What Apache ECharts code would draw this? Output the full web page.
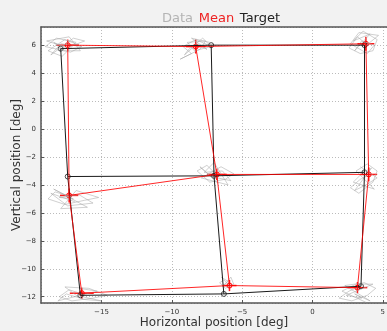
<!DOCTYPE html>
<html>
<head>
<meta charset="utf-8">
<script src="https://cdn.jsdelivr.net/npm/echarts@6/dist/echarts.min.js"></script>
<style>
  html, body { margin: 0; padding: 0; background: #f2f2f2; }
  #chart { width: 387px; height: 331px; }
</style>
</head>
<body>
<div id="chart"></div>
<script>
// order: TL, TM, TR, ML, MM, MR, BL, BM, BR
const targetX = [-17.9, -7.2, 3.7, -17.4, -7.0, 3.7, -16.5, -6.3, 3.45];
const targetY = [5.75, 6.0, 6.0, -3.4, -3.35, -3.1, -11.9, -11.8, -11.25];
const meanX = [-17.4, -8.3, 3.8, -17.3, -6.8, 4.0, -16.4, -5.9, 3.2];
const meanY = [6.0, 5.9, 6.1, -4.75, -3.25, -3.25, -11.75, -11.2, -11.35];
const sdX = [0.8, 0.7, 0.6, 0.65, 0.7, 0.6, 0.85, 0.5, 0.7];
const sdY = [0.4, 0.5, 0.5, 0.5, 0.4, 0.5, 0.4, 0.4, 0.4];
const paths = [[0, 1, 2], [3, 4, 5], [6, 7, 8], [0, 3, 6], [1, 4, 7], [2, 5, 8]];

// raw gaze traces around each target
const traces = [
  [[-16.6, 6.0], [-17.6, 6.4], [-18.8, 5.6], [-17.8, 5.2], [-16.8, 6.2], [-18.2, 6.5], [-19.0, 5.9], [-17.2, 5.5], [-16.4, 5.9], [-17.9, 6.1], [-18.6, 5.3], [-17.0, 6.5],
   [-16.2, 6.3], [-17.5, 5.8], [-18.4, 6.2], [-17.7, 5.6], [-16.5, 5.6], [-17.3, 6.6], [-18.9, 6.3], [-17.6, 5.9]],
  [[-7.4, 6.0], [-8.3, 6.4], [-9.2, 5.9], [-8.6, 5.4], [-9.4, 5.0], [-8.0, 5.7], [-7.6, 6.3], [-8.9, 6.2], [-8.4, 5.6], [-7.2, 5.9],
   [-7.8, 6.5], [-8.8, 5.7], [-9.1, 5.3], [-8.2, 6.1], [-7.5, 5.7], [-8.6, 6.5], [-7.3, 6.2]],
  [[3.8, 6.1], [3.2, 6.6], [2.6, 5.8], [3.4, 5.4], [4.3, 5.6], [4.6, 6.4], [3.6, 7.0], [2.9, 6.3], [4.1, 6.8], [3.0, 5.6],
   [3.5, 6.3], [4.4, 6.0], [3.9, 5.4], [2.7, 6.1], [3.3, 6.9], [4.7, 6.7], [3.6, 5.8]],
  [[-17.3, -4.8], [-18.3, -4.5], [-18.8, -5.0], [-17.6, -5.4], [-16.2, -5.1], [-15.2, -4.9], [-16.8, -4.4], [-17.9, -5.7], [-16.0, -5.6], [-18.4, -4.3],
   [-17.0, -5.0], [-18.0, -4.9], [-16.6, -4.7], [-15.6, -5.3], [-17.4, -5.5], [-18.6, -4.6], [-16.9, -5.2]],
  [[-6.8, -3.3], [-7.5, -2.6], [-8.2, -3.0], [-7.3, -3.8], [-6.2, -3.6], [-5.6, -3.2], [-6.5, -2.7], [-7.9, -3.5], [-6.0, -4.0], [-7.0, -2.4],
   [-7.7, -3.1], [-6.4, -3.0], [-5.8, -3.7], [-7.2, -3.4], [-8.0, -2.7], [-6.7, -3.9]],
  [[4.0, -3.3], [3.4, -3.6], [2.7, -4.2], [3.3, -4.6], [4.3, -3.8], [4.6, -3.0], [3.9, -2.5], [3.1, -3.0], [4.4, -4.3], [2.9, -3.8],
   [3.6, -3.1], [4.2, -2.8], [3.0, -4.4], [3.8, -4.0], [4.6, -3.5], [3.4, -2.7]],
  [[-16.4, -11.8], [-17.3, -11.5], [-18.0, -12.0], [-17.1, -12.3], [-15.6, -12.1], [-14.6, -11.9], [-15.9, -11.4], [-17.6, -11.3], [-16.8, -11.9], [-15.0, -12.3],
   [-16.2, -12.2], [-17.5, -11.8], [-18.1, -12.3], [-15.3, -11.6], [-16.6, -11.4]],
  [[-5.9, -11.2], [-6.3, -10.8], [-6.6, -11.0], [-6.2, -11.4], [-5.6, -11.1], [-5.8, -10.6], [-6.4, -11.3], [-6.0, -10.9], [-6.5, -10.6]],
  [[3.2, -11.35], [2.6, -11.6], [1.9, -12.1], [2.8, -12.3], [3.9, -11.9], [4.5, -11.4], [3.7, -11.0], [2.3, -11.2], [4.1, -12.3], [3.0, -11.8],
   [3.5, -12.1], [2.4, -11.9], [4.3, -11.1], [3.1, -11.1], [2.1, -11.6], [3.8, -12.4]]
];

const font = 'DejaVu Sans';
const minus = v => String(v).replace('-', '\u2212');

const series = [];
traces.forEach(t => series.push({
  type: 'line', data: t, symbol: 'none', silent: true,
  lineStyle: { color: 'rgba(165,165,165,0.75)', width: 0.7 }
}));
paths.forEach(p => series.push({
  type: 'line', data: p.map(i => [targetX[i], targetY[i]]), symbol: 'none',
  lineStyle: { color: '#1a1a1a', width: 1 }
}));
paths.forEach(p => series.push({
  type: 'line', data: p.map(i => [meanX[i], meanY[i]]), symbol: 'none',
  lineStyle: { color: 'rgba(255,0,0,0.85)', width: 1 }
}));
series.push({
  type: 'scatter', data: targetX.map((x, i) => [x, targetY[i]]),
  symbol: 'circle', symbolSize: 5,
  itemStyle: { color: 'transparent', borderColor: '#1a1a1a', borderWidth: 1 }
});
series.push({
  type: 'custom',
  data: meanX.map((x, i) => [x, meanY[i], sdX[i], sdY[i]]),
  renderItem: (params, api) => {
    const x = api.value(0), y = api.value(1), sx = api.value(2), sy = api.value(3);
    const l = api.coord([x - sx, y]), r = api.coord([x + sx, y]);
    const t = api.coord([x, y + sy]), b = api.coord([x, y - sy]);
    const c = api.coord([x, y]);
    const st = { stroke: 'rgba(255,0,0,0.9)', lineWidth: 1.5 };
    return {
      type: 'group', children: [
        { type: 'line', shape: { x1: l[0], y1: l[1], x2: r[0], y2: r[1] }, style: st },
        { type: 'line', shape: { x1: t[0], y1: t[1], x2: b[0], y2: b[1] }, style: st },
        { type: 'circle', shape: { cx: c[0], cy: c[1], r: 2.5 }, style: { fill: 'none', stroke: '#f00', lineWidth: 1 } }
      ]
    };
  }
});

const chart = echarts.init(document.getElementById('chart'));
chart.setOption({
  backgroundColor: '#f2f2f2',
  animation: false,
  textStyle: { fontFamily: font },
  title: {
    left: 216, top: 5, textAlign: 'center',
    text: '{d|Data} {m|Mean} {t|Target}',
    textStyle: {
      fontWeight: 'normal',
      rich: {
        d: { color: '#b4b4b4', fontSize: 13, fontWeight: 'normal', fontFamily: font },
        m: { color: '#ee2222', fontSize: 13, fontWeight: 'normal', fontFamily: font },
        t: { color: '#222', fontSize: 13, fontWeight: 'normal', fontFamily: font }
      }
    }
  },
  grid: { left: 41, right: 0, top: 27, bottom: 28, outerBoundsMode: 'none', containLabel: false,
    show: true, backgroundColor: '#fff', borderWidth: 0 },
  xAxis: [{
    type: 'value', min: -19.3, max: 5.3, splitNumber: 5,
    name: 'Horizontal position [deg]', nameLocation: 'middle', nameGap: 14, nameMoveOverlap: false,
    nameTextStyle: { fontSize: 12, color: '#333', fontFamily: font },
    axisLine: { onZero: false, lineStyle: { color: '#555', width: 1.5 } },
    axisTick: { inside: true, length: 3, lineStyle: { color: '#555' } },
    axisLabel: { fontSize: 7, color: '#333', margin: 6, showMinLabel: false, showMaxLabel: false, formatter: minus },
    splitLine: { lineStyle: { color: '#bbb', type: [1, 2] } }
  }, {
    type: 'value', position: 'top', min: -19.3, max: 5.3,
    axisLine: { show: true, onZero: false, lineStyle: { color: '#555', width: 1.5 } },
    axisTick: { show: false }, axisLabel: { show: false }, splitLine: { show: false }
  }],
  yAxis: {
    type: 'value', min: -12.45, max: 7.3, splitNumber: 10,
    name: 'Vertical position [deg]', nameLocation: 'middle', nameGap: 18, nameMoveOverlap: false,
    nameTextStyle: { fontSize: 12, color: '#333', fontFamily: font },
    axisLine: { show: true, onZero: false, lineStyle: { color: '#555', width: 1.5 } },
    axisTick: { show: true, inside: true, length: 3, lineStyle: { color: '#555' } },
    axisLabel: { fontSize: 7, color: '#333', margin: 5, showMinLabel: false, showMaxLabel: false, formatter: minus },
    splitLine: { lineStyle: { color: '#bbb', type: [1, 2] } }
  },
  series: series
});
</script>
</body>
</html>
